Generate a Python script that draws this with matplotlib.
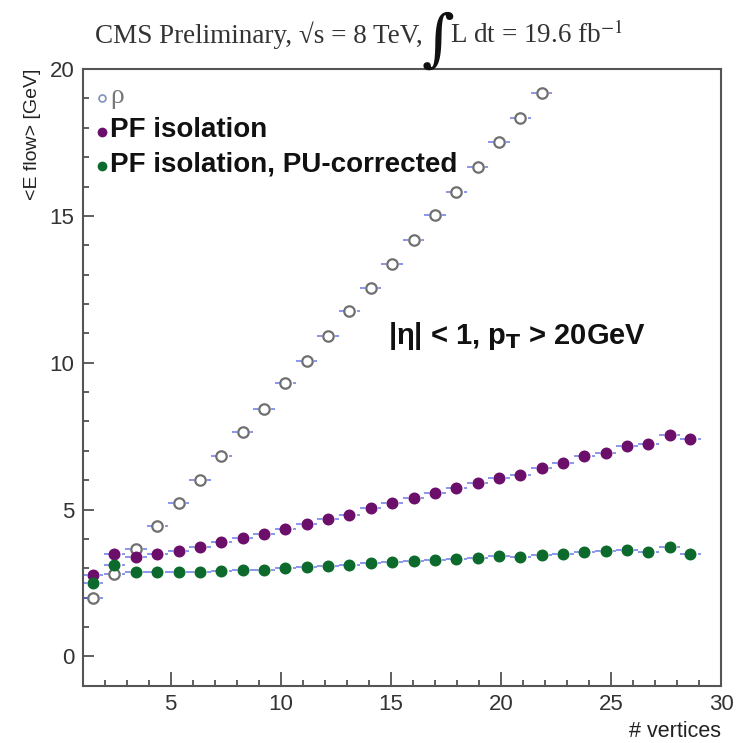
import matplotlib
matplotlib.use("Agg")
import matplotlib.pyplot as plt
from matplotlib.lines import Line2D
from matplotlib.ticker import MultipleLocator

# values
n_vtx = [1.46, 2.44, 3.42, 4.39, 5.36, 6.33, 7.30, 8.27, 9.24, 10.21, 11.18, 12.15,
         13.12, 14.09, 15.06, 16.03, 17.00, 17.97, 18.94, 19.91, 20.88, 21.85,
         22.82, 23.79, 24.76, 25.73, 26.70, 27.67, 28.60]
pf_iso = [2.78, 3.49, 3.38, 3.49, 3.60, 3.73, 3.90, 4.03, 4.18, 4.35, 4.51, 4.69,
          4.83, 5.06, 5.23, 5.40, 5.57, 5.72, 5.91, 6.08, 6.19, 6.42, 6.59, 6.82,
          6.93, 7.16, 7.24, 7.53, 7.42]
pf_iso_pu = [2.50, 3.13, 2.88, 2.88, 2.88, 2.88, 2.92, 2.93, 2.95, 3.01, 3.03, 3.08,
             3.10, 3.18, 3.22, 3.26, 3.30, 3.32, 3.35, 3.41, 3.38, 3.44, 3.49, 3.56,
             3.58, 3.64, 3.56, 3.72, 3.50]
rho = [1.98, 2.80, 3.66, 4.43, 5.23, 6.02, 6.84, 7.64, 8.44, 9.32, 10.06, 10.91,
       11.76, 12.54, 13.38, 14.17, 15.03, 15.83, 16.67, 17.52, 18.35, 19.18]
half_bin = 0.485

purple = '#6b0f6b'
green = '#0c6b2c'
errcol = '#5568e6'
sans = 'Liberation Sans'
serif = 'Liberation Serif'

fig = plt.figure(figsize=(7.38, 7.43), dpi=100)
ax = fig.add_axes([0.112, 0.077, 0.865, 0.830])

def draw(y, face, edge, ms):
    x = n_vtx[:len(y)]
    eb = ax.errorbar(x, y, xerr=half_bin, fmt='none', ecolor=errcol, elinewidth=1.3,
                     alpha=0.75, zorder=2)
    eb[2][0].set_linestyle((0, (3, 2)))
    ax.plot(x, y, 'o', ls='none', mfc=face, mec=edge, mew=1.6, ms=ms, zorder=3)

draw(rho, 'white', '#707070', 7.5)
draw(pf_iso, purple, purple, 7)
draw(pf_iso_pu, green, green, 7)

ax.set_xlim(1, 30)
ax.set_ylim(-1, 20)
ax.xaxis.set_major_locator(MultipleLocator(5))
ax.xaxis.set_minor_locator(MultipleLocator(1))
ax.yaxis.set_major_locator(MultipleLocator(5))
ax.yaxis.set_minor_locator(MultipleLocator(1))
ax.tick_params(which='both', direction='in', top=False, right=False, colors='#444444',
               labelcolor='#333333', labelsize=16, width=1.2)
ax.tick_params(which='major', length=8, pad=6)
ax.tick_params(which='minor', length=4)
ax.tick_params(axis='x', which='major', length=10)
for lab in ax.get_xticklabels() + ax.get_yticklabels():
    lab.set_family(sans)
for s in ax.spines.values():
    s.set_color('#555555')
    s.set_linewidth(1.5)

ax.set_ylabel('<E flow> [GeV]', loc='top', fontsize=14, family=sans, color='#222222',
              labelpad=6)
ax.set_xlabel('# vertices', loc='right', fontsize=15.5, family=sans, color='#222222',
              labelpad=4)

handles = [Line2D([], [], marker='o', ls='none', mfc='white', mec='#8090c0', mew=1.2, ms=5),
           Line2D([], [], marker='o', ls='none', mfc=purple, mec=purple, ms=6),
           Line2D([], [], marker='o', ls='none', mfc=green, mec=green, ms=6)]
leg = ax.legend(handles, ['ρ', 'PF isolation', 'PF isolation, PU-corrected'],
                loc='upper left', bbox_to_anchor=(0.012, 0.99), frameon=False,
                handlelength=0.5, handletextpad=0.3, labelspacing=0.6, borderaxespad=0.2)
t = leg.get_texts()
t[0].set_fontsize(20)
t[0].set_color('#777777')
t[0].set_family(serif)
for tt in t[1:]:
    tt.set_fontsize(20)
    tt.set_fontweight('bold')
    tt.set_family(sans)
    tt.set_color('#111111')

ax.text(0.478, 0.555, r'|η| < 1, p$_{\mathbf{T}}$ > 20GeV', transform=ax.transAxes,
        fontsize=21, fontweight='bold', family=sans, color='#111111',
        math_fontfamily='dejavusans')

# title pieces
fig.text(0.573, 0.942, 'CMS Preliminary, √s = 8 TeV,', fontsize=19.5, ha='right',
         family=serif, color='#333333', va='baseline')
fig.text(0.593, 0.921, r'$\int$', fontsize=32, family=serif, color='#111111', ha='center',
         math_fontfamily='dejavuserif', va='baseline')
fig.text(0.610, 0.942, r'L dt = 19.6 fb$^{\mathrm{-1}}$', fontsize=19.5,
         family=serif, color='#333333', math_fontfamily='stix', va='baseline')

fig.savefig('out.png', dpi=100)
